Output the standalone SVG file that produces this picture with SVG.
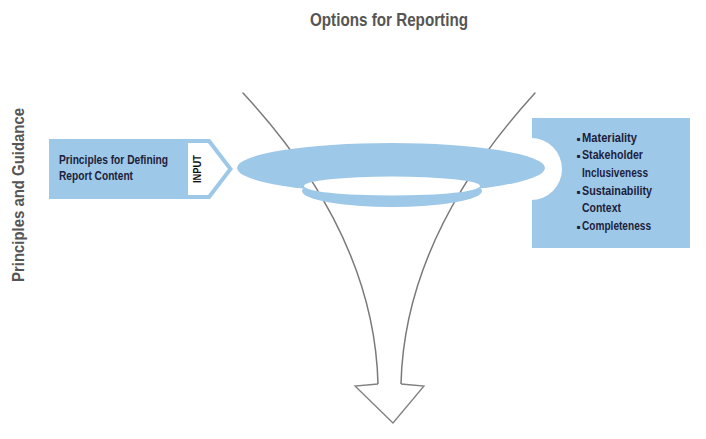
<svg xmlns="http://www.w3.org/2000/svg" width="706" height="439" viewBox="0 0 706 439">
  <style>
    .blue { fill: #9dc8e7; }
    .title { font-family: "Liberation Sans", Arial, sans-serif; font-weight: bold; fill: #555555; }
    .lbl { font-family: "Liberation Sans", Arial, sans-serif; font-weight: bold; fill: #1e1e3c; }
    .bul { font-family: "DejaVu Sans", sans-serif; font-size: 6px; fill: #1e1e3c; }
    .funnel { fill: none; stroke: #7a7a7a; stroke-width: 1.5; stroke-linecap: round; }
    .head { fill: #ffffff; stroke: #808080; stroke-width: 1.3; stroke-linejoin: miter; }
  </style>
  <defs>
    <clipPath id="holeClip">
      <ellipse cx="392" cy="186" rx="88" ry="9.5"/>
    </clipPath>
  </defs>
  <rect width="706" height="439" fill="#ffffff"/>

  <g id="title">
    <text class="title" x="310" y="26" font-size="19" textLength="158" lengthAdjust="spacingAndGlyphs">Options for Reporting</text>
  </g>

  <g id="side-label">
    <text class="title" transform="translate(24,282) rotate(-90)" x="0" y="0" font-size="17" textLength="174" lengthAdjust="spacingAndGlyphs">Principles and Guidance</text>
  </g>

  <g id="connectors">
    <path class="funnel" d="M243,93 C305,160 375,260 378,384"/>
    <path class="funnel" d="M535,93 C474,160 404,260 401,384"/>
    <path class="head" d="M378,384 L355,386 L393,423 L424,386 L401,384"/>
  </g>

  <g id="right-box">
    <rect class="blue" x="532" y="118" width="158" height="130"/>
    <ellipse cx="531" cy="169" rx="31" ry="31" fill="#ffffff"/>
    <text class="bul" x="576.5" y="141">▪</text>
    <text class="lbl" x="582" y="142" font-size="12.5" textLength="55" lengthAdjust="spacingAndGlyphs">Materiality</text>
    <text class="bul" x="576.5" y="158">▪</text>
    <text class="lbl" x="582" y="159" font-size="12.5" textLength="61" lengthAdjust="spacingAndGlyphs">Stakeholder</text>
    <text class="lbl" x="582" y="177" font-size="12.5" textLength="66" lengthAdjust="spacingAndGlyphs">Inclusiveness</text>
    <text class="bul" x="576.5" y="194">▪</text>
    <text class="lbl" x="582" y="195" font-size="12.5" textLength="70" lengthAdjust="spacingAndGlyphs">Sustainability</text>
    <text class="lbl" x="582" y="212" font-size="12.5" textLength="39" lengthAdjust="spacingAndGlyphs">Context</text>
    <text class="bul" x="576.5" y="229">▪</text>
    <text class="lbl" x="582" y="230" font-size="12.5" textLength="69" lengthAdjust="spacingAndGlyphs">Completeness</text>
  </g>

  <g id="ring">
    <ellipse class="blue" cx="391" cy="168" rx="154" ry="25"/>
    <ellipse class="blue" cx="392" cy="191" rx="90" ry="16"/>
    <ellipse cx="392" cy="186" rx="88" ry="9.5" fill="#ffffff"/>
    <g clip-path="url(#holeClip)">
      <path class="funnel" d="M243,93 C305,160 375,260 378,384"/>
      <path class="funnel" d="M535,93 C474,160 404,260 401,384"/>
    </g>
  </g>

  <g id="input-box">
    <polygon class="blue" points="49,139 210,139 233,169 210,199 49,199"/>
    <polygon fill="#ffffff" points="188,143 208,143 228,169 208,195 188,195"/>
    <text class="lbl" x="59" y="164" font-size="12" textLength="109" lengthAdjust="spacingAndGlyphs">Principles for Defining</text>
    <text class="lbl" x="59" y="180" font-size="12" textLength="74" lengthAdjust="spacingAndGlyphs">Report Content</text>
    <text transform="translate(201,183) rotate(-90)" x="0" y="0" font-family="Liberation Sans, Arial, sans-serif" font-weight="bold" font-size="10" fill="#111111" textLength="28" lengthAdjust="spacingAndGlyphs">INPUT</text>
  </g>
</svg>
